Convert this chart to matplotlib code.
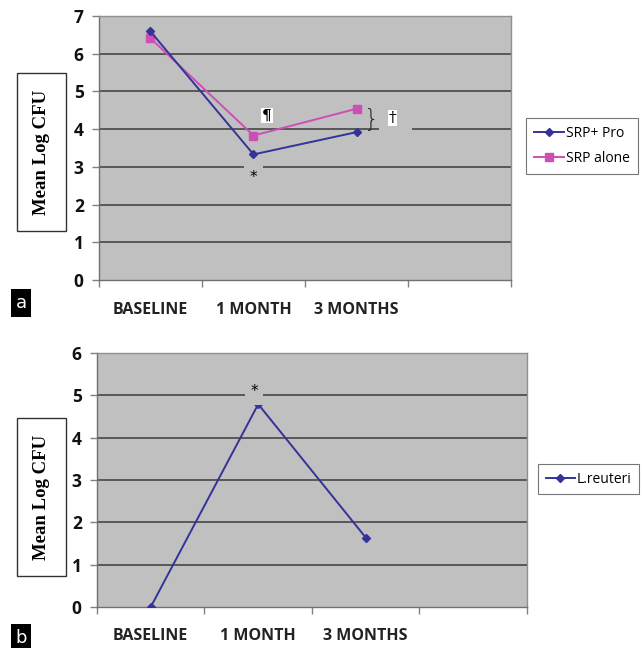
import matplotlib.pyplot as plt
from matplotlib.patches import Rectangle

# data
months = ['BASELINE', '1 MONTH', '3 MONTHS']
srp_pro = [6.59, 3.33, 3.92]
srp_alone = [6.41, 3.83, 4.54]
reuteri = [0.0, 4.79, 1.64]

bg = '#c0c0c0'
navy = '#333399'
pink = '#cc4fb5'
grid_c = '#505050'
tick_font = 'Open Sans'

fig = plt.figure(figsize=(6.44, 6.48), dpi=100)
ax1 = fig.add_axes([0.1537, 0.5679, 0.6398, 0.4074])
ax2 = fig.add_axes([0.1506, 0.0633, 0.6677, 0.3920])


def style_ax(ax, ymax):
    ax.set_facecolor(bg)
    ax.set_xlim(-0.5, 3.5)
    ax.set_ylim(0, ymax)
    ax.set_yticks(range(ymax + 1))
    for y in range(1, ymax + 1):
        ax.axhline(y, color=grid_c, lw=1.3, zorder=1)
    ax.set_xticks([-0.5, 0.5, 1.5, 2.5, 3.5])
    ax.set_xticklabels([])
    ax.tick_params(axis='x', direction='out', length=5, color='#808080', width=1)
    ax.tick_params(axis='y', direction='out', length=5, color='#808080', width=1, pad=6)
    for lab in ax.get_yticklabels():
        lab.set_fontfamily(tick_font)
        lab.set_fontweight('bold')
        lab.set_fontsize(12.5)
        lab.set_color('#111111')
    for s in ax.spines.values():
        s.set_color('#909090')
        s.set_linewidth(1)
    ax.spines['bottom'].set_color('#707070')
    ax.spines['left'].set_color('#707070')
    for i, m in enumerate(months):
        ax.text(i, -0.115, m, transform=ax.get_xaxis_transform(), ha='center', va='center',
                fontfamily=tick_font, fontweight='bold', fontsize=11.5, color='#222222')


style_ax(ax1, 7)
style_ax(ax2, 6)

x = range(len(months))
ax1.plot(x, srp_pro, color=navy, lw=1.4, marker='D', ms=4, label='SRP+ Pro', zorder=4)
ax1.plot(x, srp_alone, color=pink, lw=1.4, marker='s', ms=6, label='SRP alone', zorder=3)
ax2.plot(x, reuteri, color=navy, lw=1.4, marker='D', ms=4, label='L.reuteri', zorder=4)

# significance marks
ax1.text(1, 2.72, '*', ha='center', va='center', fontsize=11, zorder=5,
         bbox=dict(facecolor=bg, edgecolor='none', pad=4))
ax1.text(1.13, 4.36, '\u00b6', ha='center', va='center', fontsize=11, fontfamily='DejaVu Serif',
         fontweight='bold', zorder=5, bbox=dict(facecolor='white', edgecolor='none', pad=0.5))
ax1.add_patch(Rectangle((2.22, 3.8), 0.32, 0.8, facecolor=bg, edgecolor='none', zorder=2))
ax1.text(2.35, 4.3, '\u2020', ha='center', va='center', fontsize=11, fontfamily='DejaVu Serif',
         zorder=5, bbox=dict(facecolor='white', edgecolor='none', pad=0.5))
ax1.text(2.15, 4.23, '}', ha='center', va='center', fontsize=17, fontfamily='DejaVu Sans',
         fontweight='light', color='#222222', zorder=5)
ax2.text(0.96, 5.08, '*', ha='center', va='center', fontsize=11, zorder=5,
         bbox=dict(facecolor=bg, edgecolor='none', pad=4))

# legends
leg1 = fig.legend(handles=ax1.get_lines()[-2:], loc='upper left', bbox_to_anchor=(526 / 644, 1 - 118 / 648),
                  frameon=True, fancybox=False, edgecolor='#555555', handlelength=2.1,
                  prop={'family': tick_font, 'size': 10}, borderpad=0.6, labelspacing=0.7,
                  handletextpad=0.15, borderaxespad=0)
leg1.get_frame().set_linewidth(0.8)
leg2 = fig.legend(handles=ax2.get_lines()[-1:], loc='upper left', bbox_to_anchor=(538 / 644, 1 - 464 / 648),
                  frameon=True, fancybox=False, edgecolor='#555555', handlelength=2.1,
                  prop={'family': tick_font, 'size': 10}, borderpad=0.55, handletextpad=0.15,
                  borderaxespad=0)
leg2.get_frame().set_linewidth(0.8)

# y axis title boxes
for yc in [1 - 152 / 648, 1 - 497 / 648]:
    fig.text(41.5 / 644, yc, 'Mean Log CFU', rotation=90, ha='center', va='center',
             fontfamily='Liberation Serif', fontweight='bold', fontsize=13.5,
             bbox=dict(facecolor='white', edgecolor='#333333', lw=1, boxstyle='square,pad=0.85'))

# panel letters
fig.text(21 / 644, 1 - 303 / 648, 'a', ha='center', va='center', color='white', fontsize=13,
         fontfamily='DejaVu Sans', bbox=dict(facecolor='black', edgecolor='none', boxstyle='square,pad=0.25'))
fig.text(21 / 644, 1 - 638 / 648, 'b', ha='center', va='center', color='white', fontsize=13,
         fontfamily='DejaVu Sans', bbox=dict(facecolor='black', edgecolor='none', boxstyle='square,pad=0.25'))

fig.savefig('out.png', dpi=100)
